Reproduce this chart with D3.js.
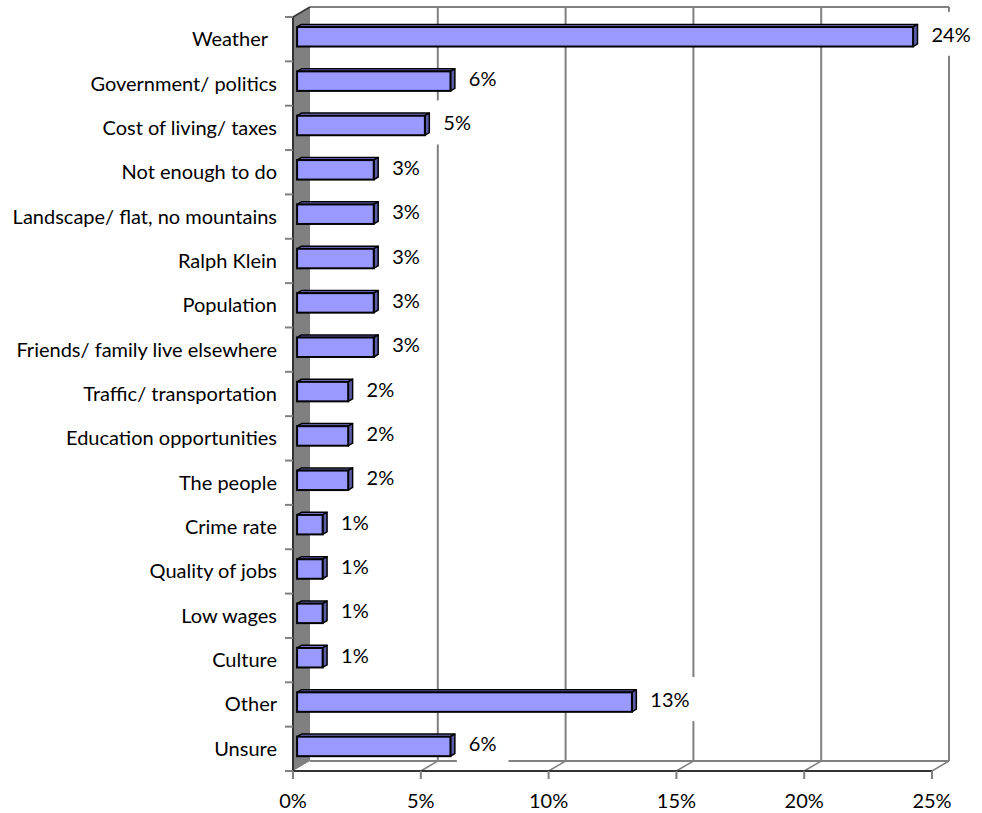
<!DOCTYPE html>
<html>
<head>
<meta charset="utf-8">
<script src="https://cdn.jsdelivr.net/npm/d3@7"></script>
<style>
  body { margin: 0; background: #fff; }
  text { font-family: Lato, "Open Sans", sans-serif; fill: #000; }
</style>
</head>
<body>
<div id="wrapper"></div>
<script>
const categories = [
  "Weather", "Government/ politics", "Cost of living/ taxes", "Not enough to do",
  "Landscape/ flat, no mountains", "Ralph Klein", "Population",
  "Friends/ family live elsewhere", "Traffic/ transportation",
  "Education opportunities", "The people", "Crime rate", "Quality of jobs",
  "Low wages", "Culture", "Other", "Unsure"
]
const values = [24.1, 6, 5, 3, 3, 3, 3, 3, 2, 2, 2, 1, 1, 1, 1, 13.1, 6]
const valueLabels = ["24%", "6%", "5%", "3%", "3%", "3%", "3%", "3%", "2%", "2%", "2%", "1%", "1%", "1%", "1%", "13%", "6%"]
const xTicks = [0, 5, 10, 15, 20, 25]

const drawChart = () => {
  const data = categories.map((c, i) => ({ category: c, value: values[i], label: valueLabels[i] }))

  // dimensions
  const dimensions = {
    width: 982,
    height: 813,
    left: 293,
    right: 932,
    top: 17,
    bottom: 771,
    depthX: 17,
    depthY: -10,
  }

  const wrapper = d3.select("#wrapper")
    .append("svg")
    .attr("width", dimensions.width)
    .attr("height", dimensions.height)

  // scales
  const xScale = d3.scaleLinear()
    .domain([0, 25])
    .range([dimensions.left, dimensions.right])

  const yScale = d3.scaleBand()
    .domain(categories)
    .range([dimensions.top, dimensions.bottom])
    .paddingInner(0.56)
    .paddingOuter(0.28)

  const dx = dimensions.depthX
  const dy = dimensions.depthY
  const gridColor = "#808080"
  const axisColor = "#333"
  const fontSize = "20px"

  // wall
  wrapper.append("polygon")
    .attr("points", [
      [dimensions.left, dimensions.top],
      [dimensions.left + dx, dimensions.top + dy],
      [dimensions.left + dx, dimensions.bottom + dy],
      [dimensions.left, dimensions.bottom],
    ].join(" "))
    .attr("fill", "#808080")

  // back plane gridlines
  const grid = wrapper.append("g")
  grid.selectAll(".grid-line")
    .data(xTicks.slice(1))
    .join("line")
    .attr("x1", (d) => xScale(d) + dx)
    .attr("x2", (d) => xScale(d) + dx)
    .attr("y1", dimensions.top + dy)
    .attr("y2", dimensions.bottom + dy)
    .attr("stroke", gridColor)
    .attr("stroke-width", 2)

  grid.append("line")
    .attr("x1", dimensions.left + dx)
    .attr("x2", dimensions.right + dx)
    .attr("y1", dimensions.top + dy)
    .attr("y2", dimensions.top + dy)
    .attr("stroke", gridColor)
    .attr("stroke-width", 2)

  // floor
  grid.append("line")
    .attr("x1", dimensions.left + dx)
    .attr("x2", dimensions.right + dx)
    .attr("y1", dimensions.bottom + dy)
    .attr("y2", dimensions.bottom + dy)
    .attr("stroke", gridColor)
    .attr("stroke-width", 2)

  grid.selectAll(".floor-line")
    .data(xTicks.slice(1))
    .join("line")
    .attr("x1", (d) => xScale(d))
    .attr("x2", (d) => xScale(d) + dx)
    .attr("y1", dimensions.bottom)
    .attr("y2", dimensions.bottom + dy)
    .attr("stroke", gridColor)
    .attr("stroke-width", 1.5)

  // label backgrounds (white boxes hide gridlines, drawn under the bars)
  const labelBgGroup = wrapper.append("g")

  // axes
  const axes = wrapper.append("g")
  axes.append("line")
    .attr("x1", dimensions.left)
    .attr("x2", dimensions.left)
    .attr("y1", dimensions.top)
    .attr("y2", dimensions.bottom)
    .attr("stroke", axisColor)
    .attr("stroke-width", 2)

  axes.append("line")
    .attr("x1", dimensions.left)
    .attr("x2", dimensions.left + dx)
    .attr("y1", dimensions.top)
    .attr("y2", dimensions.top + dy)
    .attr("stroke", axisColor)
    .attr("stroke-width", 1.5)

  axes.append("line")
    .attr("x1", dimensions.left)
    .attr("x2", dimensions.right)
    .attr("y1", dimensions.bottom)
    .attr("y2", dimensions.bottom)
    .attr("stroke", axisColor)
    .attr("stroke-width", 2)

  axes.selectAll(".x-tick")
    .data(xTicks)
    .join("line")
    .attr("x1", (d) => xScale(d))
    .attr("x2", (d) => xScale(d))
    .attr("y1", dimensions.bottom)
    .attr("y2", dimensions.bottom + 8)
    .attr("stroke", gridColor)
    .attr("stroke-width", 2)

  axes.selectAll(".x-label")
    .data(xTicks)
    .join("text")
    .attr("x", (d) => xScale(d))
    .attr("y", dimensions.bottom + 37)
    .attr("text-anchor", "middle")
    .style("font-size", fontSize)
    .text((d) => `${d}%`)

  const step = yScale.step()
  axes.selectAll(".y-tick")
    .data(d3.range(categories.length + 1))
    .join("line")
    .attr("x1", dimensions.left - 8)
    .attr("x2", dimensions.left)
    .attr("y1", (i) => dimensions.top + i * step)
    .attr("y2", (i) => dimensions.top + i * step)
    .attr("stroke", gridColor)
    .attr("stroke-width", 2)

  axes.selectAll(".y-label")
    .data(categories)
    .join("text")
    .attr("x", (d, i) => dimensions.left - (i === 0 ? 25 : 16))
    .attr("y", (d) => yScale(d) + yScale.bandwidth() / 2)
    .attr("dy", "0.35em")
    .attr("text-anchor", "end")
    .style("font-size", fontSize)
    .text((d) => d)

  // bars
  const f1 = 0.24
  const f2 = 0.5
  const bars = wrapper.append("g")
  const barGeom = (d) => {
    const x0 = xScale(0) + dx * f1
    const x1 = xScale(d.value) + dx * f1
    const y0 = yScale(d.category) + dy * f1
    const y1 = y0 + yScale.bandwidth()
    const ox = dx * (f2 - f1)
    const oy = dy * (f2 - f1)
    return { x0, x1, y0, y1, ox, oy }
  }

  const barGroups = bars.selectAll("g")
    .data(data)
    .join("g")

  barGroups.append("polygon")
    .attr("points", (d) => {
      const g = barGeom(d)
      return [[g.x0, g.y0], [g.x0 + g.ox, g.y0 + g.oy], [g.x1 + g.ox, g.y0 + g.oy], [g.x1, g.y0]].join(" ")
    })
    .attr("fill", "#7a7ad6")
    .attr("stroke", "#000")
    .attr("stroke-width", 1.5)
    .attr("stroke-linejoin", "round")

  barGroups.append("polygon")
    .attr("points", (d) => {
      const g = barGeom(d)
      return [[g.x1, g.y0], [g.x1 + g.ox, g.y0 + g.oy], [g.x1 + g.ox, g.y1 + g.oy], [g.x1, g.y1]].join(" ")
    })
    .attr("fill", "#5c5ca8")
    .attr("stroke", "#000")
    .attr("stroke-width", 1.5)
    .attr("stroke-linejoin", "round")

  barGroups.append("rect")
    .attr("x", (d) => barGeom(d).x0)
    .attr("y", (d) => barGeom(d).y0)
    .attr("width", (d) => barGeom(d).x1 - barGeom(d).x0)
    .attr("height", yScale.bandwidth())
    .attr("fill", "#9999ff")
    .attr("stroke", "#000")
    .attr("stroke-width", 2)

  // value labels
  const labels = wrapper.append("g")
  labels.selectAll("text")
    .data(data)
    .join("text")
    .attr("x", (d) => barGeom(d).x1 + barGeom(d).ox + 14)
    .attr("y", (d) => barGeom(d).y0 + yScale.bandwidth() / 2 - 2)
    .attr("dy", "0.35em")
    .style("font-size", fontSize)
    .text((d) => d.label)
    .each(function () {
      const box = this.getBBox()
      labelBgGroup.append("rect")
        .attr("x", box.x - 12)
        .attr("y", box.y + box.height / 2 - 22)
        .attr("width", box.width + 24)
        .attr("height", 44)
        .attr("fill", "#fff")
    })
}

drawChart()
</script>
</body>
</html>
